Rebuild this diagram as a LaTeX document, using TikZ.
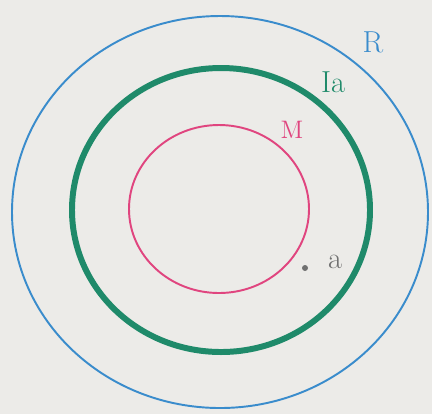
\documentclass[tikz,border=0pt]{standalone}
\usepackage{xcolor}
\usepackage{tikz}
\usetikzlibrary{positioning}

\definecolor{paper}{HTML}{ECEBE8}
\definecolor{ringblue}{HTML}{3A8CCC}
\definecolor{ringgreen}{HTML}{1F8A6A}
\definecolor{ringpink}{HTML}{E0457F}
\definecolor{pencil}{HTML}{707070}

\begin{document}
\begin{tikzpicture}[x=0.02cm, y=-0.02cm,
    ring/.style={line width=1.1pt},
    lbl/.style={inner sep=0pt, font=\LARGE}]
        \fill[paper] (0,0) rectangle (432,414);
        \useasboundingbox (0,0) rectangle (432,414);
        \draw[ring, ringblue] (220,212) ellipse (208 and 196);
        \draw[line width=3.4pt, ringgreen] (221,210) ellipse (149 and 142);
        \draw[ring, ringpink] (219,209) ellipse (90 and 84);
        \node[lbl, ringblue] (R) at (373,42) {R};
        \node[lbl, ringgreen] (Ia) at (333,82) {Ia};
        \node[lbl, ringpink, font=\Large] (M) at (292,130) {M};
        \fill[pencil] (305,268) circle (3);
        \node[lbl, pencil] (a) at (335,262) {a};
    \end{tikzpicture}
\end{document}
